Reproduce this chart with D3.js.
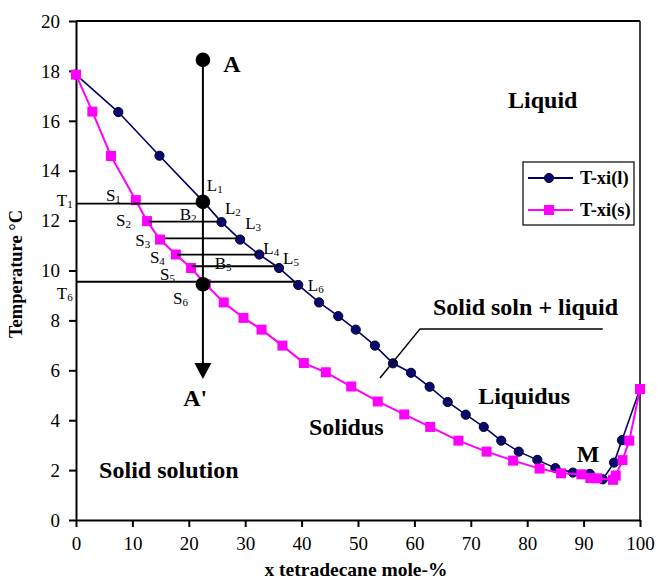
<!DOCTYPE html>
<html lang="en">
<head>
    <meta charset="UTF-8">
    <title>Tetradecane phase diagram</title>
    <script src="https://d3js.org/d3.v7.min.js"></script>
    <style>
        body { margin: 0; background: white; }
        svg { display: block; font-family: "Liberation Serif", "Times New Roman", serif; }
    </style>
</head>
<body>
<script>
    // liquidus, T-xi(l)
    const liquidusX = [0, 7.5, 14.8, 22.5, 25.8, 29.1, 32.5, 36.0, 39.4, 43.1, 46.5, 49.6, 53.0, 56.2, 59.4, 62.7, 65.9, 69.1, 72.3, 75.4, 78.5, 81.8, 85.0, 88.1, 91.1, 93.4, 95.4, 96.8, 100];
    const liquidusT = [17.85, 16.35, 14.6, 12.78, 11.94, 11.24, 10.64, 10.1, 9.42, 8.72, 8.17, 7.63, 6.99, 6.28, 5.9, 5.34, 4.73, 4.22, 3.73, 3.18, 2.74, 2.41, 2.08, 1.9, 1.85, 1.63, 2.3, 3.2, 5.25];

    // solidus, T-xi(s)
    const solidusX = [0, 2.9, 6.2, 10.6, 12.6, 14.9, 17.7, 20.4, 23.0, 26.2, 29.7, 32.9, 36.6, 40.4, 44.3, 48.8, 53.5, 58.2, 62.8, 67.8, 72.8, 77.5, 82.2, 86.0, 89.6, 91.2, 92.4, 95.2, 95.7, 96.9, 98.1, 100];
    const solidusT = [17.85, 16.37, 14.59, 12.82, 11.98, 11.24, 10.64, 10.1, 9.45, 8.72, 8.1, 7.63, 6.99, 6.29, 5.92, 5.35, 4.75, 4.23, 3.73, 3.18, 2.74, 2.38, 2.06, 1.87, 1.83, 1.68, 1.67, 1.61, 1.78, 2.4, 3.18, 5.25];

    const xTicks = [0, 10, 20, 30, 40, 50, 60, 70, 80, 90, 100];
    const yTicks = [0, 2, 4, 6, 8, 10, 12, 14, 16, 18, 20];

    // cooling path A -> A' at fixed composition
    const pathX = 22.5;
    const pathTop = 18.44;
    const pathTip = 5.65;
    const blackDotsT = [18.44, 12.75, 9.45];

    // horizontal tie lines (T, from x, to x)
    const tieT = [12.68, 11.96, 11.29, 10.64, 10.17, 9.55];
    const tieFrom = [0, 12.9, 15.8, 17.9, 20.5, 0];
    const tieTo = [22.2, 25.5, 28.7, 32.3, 35.9, 39.1];

    // small labels with subscripts
    const smallLabels = [
        ["T", "1", -3.4, 12.6], ["S", "1", 5.3, 12.79], ["S", "2", 7.1, 11.8],
        ["B", "2", 18.4, 12.02], ["S", "3", 10.5, 10.98], ["S", "4", 13.1, 10.32],
        ["B", "5", 24.6, 10.06], ["S", "5", 14.9, 9.6], ["T", "6", -3.4, 8.86],
        ["S", "6", 17.2, 8.66], ["L", "1", 23.2, 13.19], ["L", "2", 26.4, 12.26],
        ["L", "3", 30.0, 11.66], ["L", "4", 33.2, 10.66], ["L", "5", 36.7, 10.26],
        ["L", "6", 41.1, 9.18]
    ];

    // bold region labels
    const bigLabels = [
        ["Liquid", 76.6, 16.5], ["A", 26.1, 17.96], ["A'", 19.0, 4.55],
        ["Solid soln + liquid", 63.3, 8.22], ["Liquidus", 71.3, 4.65],
        ["Solidus", 41.3, 3.4], ["Solid solution", 4.1, 1.68], ["M", 88.8, 2.32]
    ];

    // leader line for "Solid soln + liquid"
    const leaderX = [53.9, 61.0, 93.4];
    const leaderT = [5.69, 7.66, 7.66];

    const width = 657, height = 579;
    const svg = d3.select("body").append("svg")
        .attr("width", width)
        .attr("height", height);

    const x = d3.scaleLinear().domain([0, 100]).range([76, 640]);
    const y = d3.scaleLinear().domain([0, 20]).range([520, 21]);

    // axes
    const xAxis = svg.append("g")
        .attr("transform", `translate(0,${y(0)})`)
        .call(d3.axisBottom(x).tickValues(xTicks).tickSize(7).tickSizeOuter(0).tickPadding(10));
    const yAxis = svg.append("g")
        .attr("transform", `translate(${x(0)},0)`)
        .call(d3.axisLeft(y).tickValues(yTicks).tickSize(7).tickSizeOuter(0).tickPadding(9));

    [xAxis, yAxis].forEach(ax => {
        ax.select(".domain").attr("stroke", "#000").attr("stroke-width", 2);
        ax.selectAll(".tick line").attr("stroke", "#000").attr("stroke-width", 2);
        ax.selectAll(".tick text")
            .attr("fill", "#000")
            .style("font-family", "'Liberation Serif', serif")
            .style("font-size", "19px");
    });
    yAxis.selectAll(".tick text").attr("dy", "0.33em");

    // frame, top and right
    svg.append("line")
        .attr("x1", x(0)).attr("x2", x(100))
        .attr("y1", y(20)).attr("y2", y(20))
        .attr("stroke", "#000").attr("stroke-width", 2);
    svg.append("line")
        .attr("x1", x(100)).attr("x2", x(100))
        .attr("y1", y(0)).attr("y2", y(20))
        .attr("stroke", "#000").attr("stroke-width", 1.5);

    // axis titles
    svg.append("text")
        .attr("x", 356).attr("y", 576)
        .attr("text-anchor", "middle")
        .style("font-weight", "bold").style("font-size", "19.5px")
        .text("x tetradecane mole-%");
    svg.append("text")
        .attr("transform", "translate(22,274) rotate(-90)")
        .attr("text-anchor", "middle")
        .style("font-weight", "bold").style("font-size", "18.5px")
        .text("Temperature °C");

    const line = d3.line().x(d => x(d[0])).y(d => y(d[1]));
    const liquidus = d3.zip(liquidusX, liquidusT);
    const solidus = d3.zip(solidusX, solidusT);

    // liquidus series
    svg.append("path")
        .datum(liquidus)
        .attr("fill", "none")
        .attr("stroke", "#000066")
        .attr("stroke-width", 1.6)
        .attr("d", line);
    svg.selectAll(".liq")
        .data(liquidus)
        .enter().append("circle")
        .attr("class", "liq")
        .attr("cx", d => x(d[0]))
        .attr("cy", d => y(d[1]))
        .attr("r", 4.6)
        .attr("fill", "#0a0a6e")
        .attr("stroke", "#000033")
        .attr("stroke-width", 1);

    // solidus series
    svg.append("path")
        .datum(solidus)
        .attr("fill", "none")
        .attr("stroke", "#ff00ff")
        .attr("stroke-width", 2)
        .attr("d", line);
    svg.selectAll(".sol")
        .data(solidus)
        .enter().append("rect")
        .attr("class", "sol")
        .attr("x", d => x(d[0]) - 5)
        .attr("y", d => y(d[1]) - 5)
        .attr("width", 10)
        .attr("height", 10)
        .attr("fill", "#ff00ff");

    // tie lines
    tieT.forEach((t, i) => {
        svg.append("line")
            .attr("x1", x(tieFrom[i])).attr("x2", x(tieTo[i]))
            .attr("y1", y(t)).attr("y2", y(t))
            .attr("stroke", "#000").attr("stroke-width", 1.8);
    });

    // vertical cooling path with arrow
    svg.append("line")
        .attr("x1", x(pathX)).attr("x2", x(pathX))
        .attr("y1", y(pathTop)).attr("y2", y(pathTip) - 10)
        .attr("stroke", "#000").attr("stroke-width", 2);
    svg.append("path")
        .attr("d", `M${x(pathX) - 8.5},${y(pathTip) - 16} L${x(pathX) + 8.5},${y(pathTip) - 16} L${x(pathX)},${y(pathTip)} Z`)
        .attr("fill", "#000");

    svg.selectAll(".dot")
        .data(blackDotsT)
        .enter().append("circle")
        .attr("class", "dot")
        .attr("cx", x(pathX))
        .attr("cy", d => y(d))
        .attr("r", 7.3)
        .attr("fill", "#000");

    // leader line
    svg.append("path")
        .datum(d3.zip(leaderX, leaderT))
        .attr("fill", "none")
        .attr("stroke", "#000")
        .attr("stroke-width", 1.5)
        .attr("d", line);

    // labels
    smallLabels.forEach(d => {
        const t = svg.append("text")
            .attr("x", x(d[2])).attr("y", y(d[3]))
            .style("font-size", "17px");
        t.append("tspan").text(d[0]);
        t.append("tspan").attr("dy", 2).style("font-size", "11px").text(d[1]);
    });

    bigLabels.forEach(d => {
        svg.append("text")
            .attr("x", x(d[1])).attr("y", y(d[2]))
            .style("font-weight", "bold")
            .style("font-size", "24px")
            .text(d[0]);
    });

    // legend
    const legend = svg.append("g").attr("transform", "translate(523,162)");
    legend.append("rect")
        .attr("width", 111).attr("height", 63)
        .attr("fill", "white")
        .attr("stroke", "#000").attr("stroke-width", 1.2);

    const legendRows = [
        { label: "T-xi(l)", color: "#000066", shape: "circle" },
        { label: "T-xi(s)", color: "#ff00ff", shape: "square" }
    ];
    legendRows.forEach((d, i) => {
        const row = legend.append("g").attr("transform", `translate(0,${16 + i * 32})`);
        row.append("line")
            .attr("x1", 5).attr("x2", 50)
            .attr("stroke", d.color).attr("stroke-width", 2);
        if (d.shape === "circle") {
            row.append("circle").attr("cx", 26).attr("r", 4.6).attr("fill", "#0a0a6e").attr("stroke", "#000033");
        } else {
            row.append("rect").attr("x", 21).attr("y", -5).attr("width", 10).attr("height", 10).attr("fill", d.color);
        }
        row.append("text")
            .attr("x", 57).attr("y", 6)
            .style("font-weight", "bold")
            .style("font-size", "18.5px")
            .text(d.label);
    });
</script>
</body>
</html>
